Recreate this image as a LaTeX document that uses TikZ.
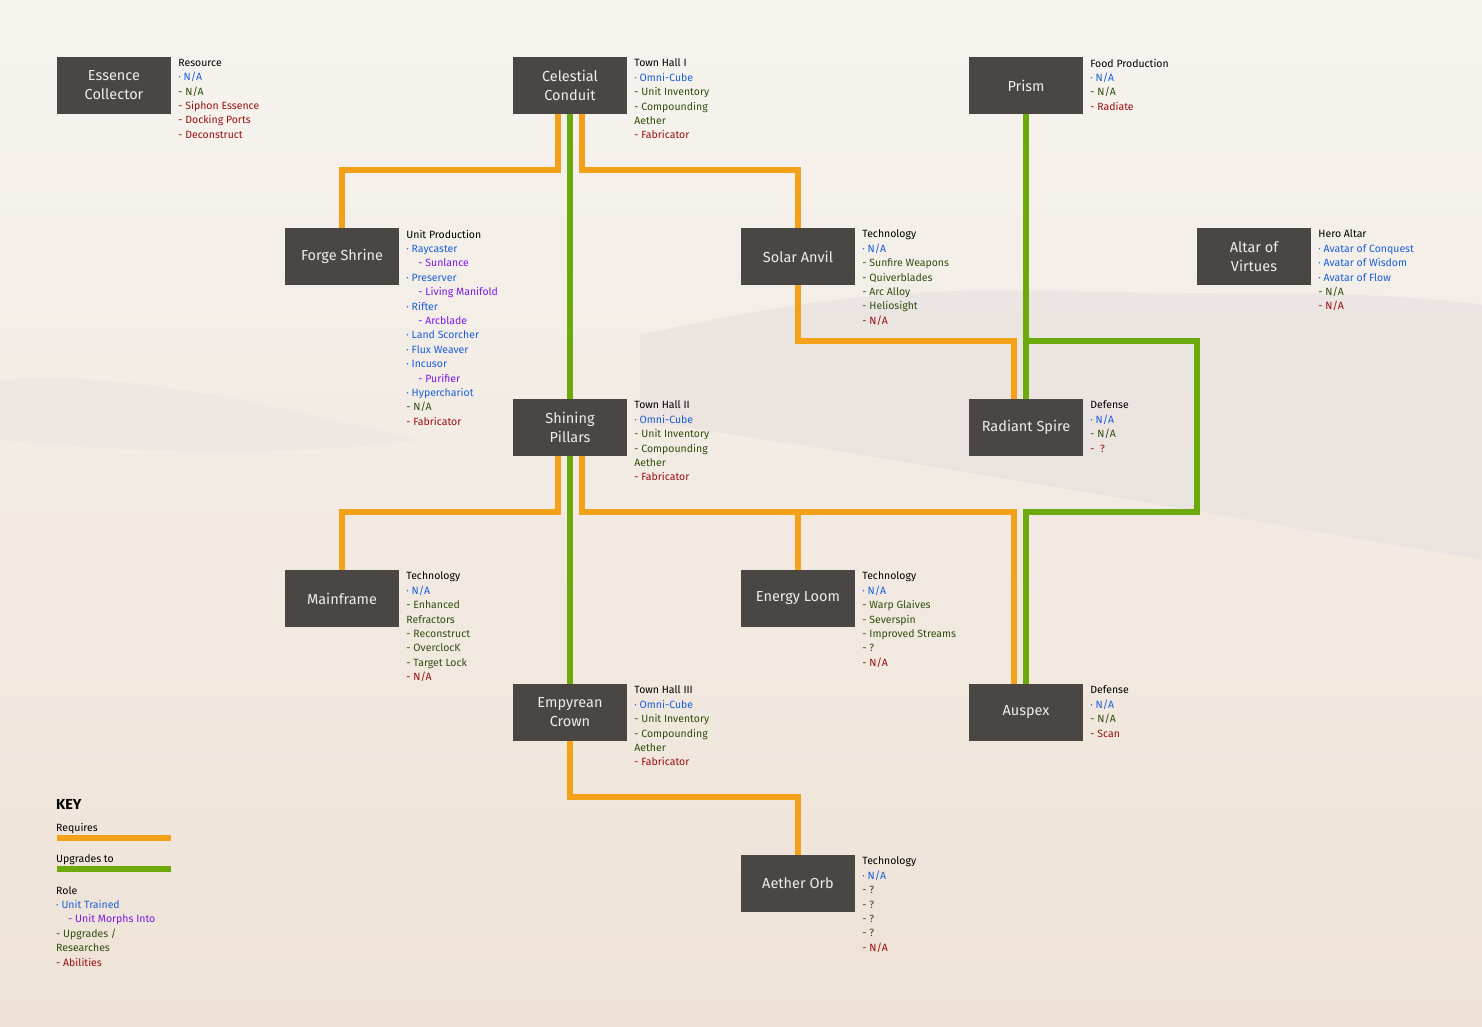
\documentclass[tikz,border=0pt]{standalone}
\usepackage{fontspec}
\setmainfont{Fira Sans}
\usetikzlibrary{calc}
\pgfdeclarelayer{bg}
\pgfdeclarelayer{lines}
\pgfsetlayers{bg,lines,main}
\definecolor{boxc}{HTML}{4A4643}
\definecolor{reqc}{HTML}{F4A11A}
\definecolor{upc}{HTML}{6BAA0A}
\definecolor{blc}{HTML}{1A5FD8}
\definecolor{puc}{HTML}{7A1AE8}
\definecolor{grc}{HTML}{2F4F0F}
\definecolor{rdc}{HTML}{9A1010}
\definecolor{bgtop}{HTML}{F6F3EF}
\definecolor{bgbot}{HTML}{EEE2D6}
\definecolor{duneA}{HTML}{E2DCDE}
\definecolor{duneB}{HTML}{E6E0E0}
\newcommand\itB[1]{\textcolor{blc}{· #1}}
\newcommand\itP[1]{\hspace*{12pt}\textcolor{puc}{- #1}}
\newcommand\itG[1]{\textcolor{grc}{- #1}}
\newcommand\itR[1]{\textcolor{rdc}{- #1}}
\newcommand\itH[1]{\textcolor{black}{#1}}
\begin{document}
\begin{tikzpicture}[x=1pt,y=-1pt,
  bx/.style={fill=boxc,minimum width=114pt,minimum height=57pt,inner sep=0pt,
    text=white!93!black,align=center,font=\fontsize{14.5}{19}\selectfont},
  info/.style={anchor=north west,inner sep=0pt,align=left,
    font=\fontsize{10.5}{14.4}\selectfont},
  req/.style={draw=reqc,line width=6pt,line join=miter},
  up/.style={draw=upc,line width=6pt,line join=miter}]
\begin{pgfonlayer}{bg}
\shade[top color=bgtop,bottom color=bgbot] (0,0) rectangle (1482,1026);
\fill[duneA,opacity=0.45]
  (640,335) .. controls (800,300) and (900,285) .. (1100,292)
  .. controls (1250,295) and (1380,290) .. (1482,305) -- (1482,560)
  .. controls (1250,520) and (900,460) .. (640,420) -- cycle;
\fill[duneB,opacity=0.35]
  (0,380) .. controls (120,370) and (250,400) .. (420,440)
  .. controls (250,460) and (120,450) .. (0,440) -- cycle;
\end{pgfonlayer}
\useasboundingbox (0,0) rectangle (1482,1026);

% boxes
\node[bx] (esc) at (114,85.5) {Essence\\Collector};
\node[bx] (cc) at (570,85.5) {Celestial\\Conduit};
\node[bx] (pr) at (1026,85.5) {Prism};
\node[bx] (fs) at (342,256.5) {Forge Shrine};
\node[bx] (sa) at (798,256.5) {Solar Anvil};
\node[bx] (av) at (1254,256.5) {Altar of\\Virtues};
\node[bx] (sp) at (570,427.5) {Shining\\Pillars};
\node[bx] (rs) at (1026,427.5) {Radiant Spire};
\node[bx] (mf) at (342,598.5) {Mainframe};
\node[bx] (el) at (798,598.5) {Energy Loom};
\node[bx] (emc) at (570,712.5) {Empyrean\\Crown};
\node[bx] (au) at (1026,712.5) {Auspex};
\node[bx] (ao) at (798,883.5) {Aether Orb};

% info texts
\node[info] (esct) at ([xshift=7pt,yshift=-2pt]esc.north east) {\itH{Resource}\\\itB{N/A}\\\itG{N/A}\\\itR{Siphon Essence}\\\itR{Docking Ports}\\\itR{Deconstruct}};
\node[info] (cct) at ([xshift=7pt,yshift=-2pt]cc.north east) {\itH{Town Hall I}\\\itB{Omni-Cube}\\\itG{Unit Inventory}\\\itG{Compounding}\\\textcolor{grc}{Aether}\\\itR{Fabricator}};
\node[info] (prt) at ([xshift=7pt,yshift=-2pt]pr.north east) {\itH{Food Production}\\\itB{N/A}\\\itG{N/A}\\\itR{Radiate}};
\node[info] (fst) at ([xshift=7pt,yshift=-2pt]fs.north east) {\itH{Unit Production}\\\itB{Raycaster}\\\itP{Sunlance}\\\itB{Preserver}\\\itP{Living Manifold}\\\itB{Rifter}\\\itP{Arcblade}\\\itB{Land Scorcher}\\\itB{Flux Weaver}\\\itB{Incusor}\\\itP{Purifier}\\\itB{Hyperchariot}\\\itG{N/A}\\\itR{Fabricator}};
\node[info] (sat) at ([xshift=7pt,yshift=-2pt]sa.north east) {\itH{Technology}\\\itB{N/A}\\\itG{Sunfire Weapons}\\\itG{Quiverblades}\\\itG{Arc Alloy}\\\itG{Heliosight}\\\itR{N/A}};
\node[info] (avt) at ([xshift=7pt,yshift=-2pt]av.north east) {\itH{Hero Altar}\\\itB{Avatar of Conquest}\\\itB{Avatar of Wisdom}\\\itB{Avatar of Flow}\\\itG{N/A}\\\itR{N/A}};
\node[info] (spt) at ([xshift=7pt,yshift=-2pt]sp.north east) {\itH{Town Hall II}\\\itB{Omni-Cube}\\\itG{Unit Inventory}\\\itG{Compounding}\\\textcolor{grc}{Aether}\\\itR{Fabricator}};
\node[info] (rst) at ([xshift=7pt,yshift=-2pt]rs.north east) {\itH{Defense}\\\itB{N/A}\\\itG{N/A}\\\itR{\ ?}};
\node[info] (mft) at ([xshift=7pt,yshift=-2pt]mf.north east) {\itH{Technology}\\\itB{N/A}\\\itG{Enhanced}\\\textcolor{grc}{Refractors}\\\itG{Reconstruct}\\\itG{OverclocK}\\\itG{Target Lock}\\\itR{N/A}};
\node[info] (elt) at ([xshift=7pt,yshift=-2pt]el.north east) {\itH{Technology}\\\itB{N/A}\\\itG{Warp Glaives}\\\itG{Severspin}\\\itG{Improved Streams}\\\itG{?}\\\itR{N/A}};
\node[info] (emct) at ([xshift=7pt,yshift=-2pt]emc.north east) {\itH{Town Hall III}\\\itB{Omni-Cube}\\\itG{Unit Inventory}\\\itG{Compounding}\\\textcolor{grc}{Aether}\\\itR{Fabricator}};
\node[info] (aut) at ([xshift=7pt,yshift=-2pt]au.north east) {\itH{Defense}\\\itB{N/A}\\\itG{N/A}\\\itR{Scan}};
\node[info] (aot) at ([xshift=7pt,yshift=-2pt]ao.north east) {\itH{Technology}\\\itB{N/A}\\\itG{?}\\\itG{?}\\\itG{?}\\\itG{?}\\\itR{N/A}};

% connectors
\begin{pgfonlayer}{lines}
\draw[req] ([xshift=-12pt]cc.south) -- ++(0,56) -| (fs.north);
\draw[req] ([xshift=12pt]cc.south) -- ++(0,56) -| (sa.north);
\draw[up] (cc.south) -- (sp.north);
\draw[req] (sa.south) -- ++(0,56) -| ([xshift=-12pt]rs.north);
\draw[up] (pr.south) -- (rs.north);
\draw[up] (pr.south) ++(0,227) -- ++(171,0) -- ++(0,171) -| (au.north);
\draw[req] ([xshift=-12pt]sp.south) -- ++(0,56) -| (mf.north);
\draw[req] ([xshift=12pt]sp.south) -- ++(0,56) -| ([xshift=-12pt]au.north);
\draw[req] (el.north) -- ++(0,-58);
\draw[up] (sp.south) -- (emc.north);
\draw[req] (emc.south) -- ++(0,56) -| (ao.north);
\end{pgfonlayer}

% key
\node[anchor=west,inner sep=0pt,font=\bfseries\fontsize{14.5}{16}\selectfont] (key) at (56,804) {KEY};
\node[anchor=west,inner sep=0pt,font=\fontsize{10.5}{12}\selectfont] (reql) at (56,829) {Requires};
\node[fill=reqc,minimum width=114pt,minimum height=6pt,inner sep=0pt] (reqbar) at (114,838) {};
\node[anchor=west,inner sep=0pt,font=\fontsize{10.5}{12}\selectfont] (upl) at (56,860) {Upgrades to};
\node[fill=upc,minimum width=114pt,minimum height=6pt,inner sep=0pt] (upbar) at (114,869) {};
\node[info] (role) at (56,886) {\itH{Role}\\\itB{Unit Trained}\\\itP{Unit Morphs Into}\\\itG{Upgrades /}\\\textcolor{grc}{Researches}\\\itR{Abilities}};
\end{tikzpicture}
\end{document}
